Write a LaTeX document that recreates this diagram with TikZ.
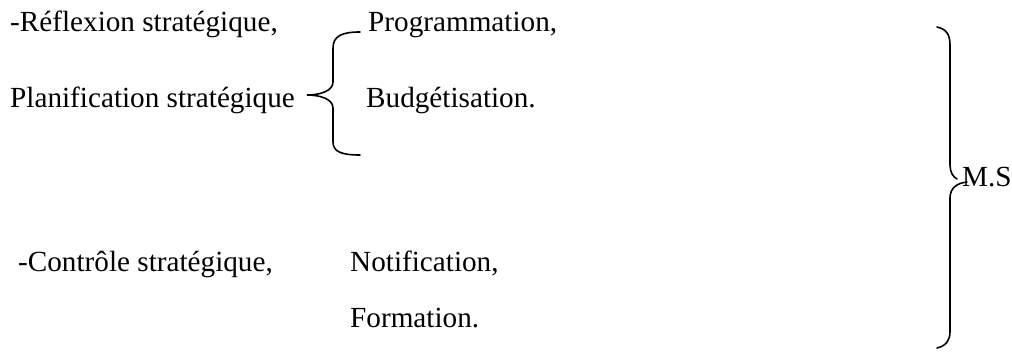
\documentclass[tikz,border=0pt]{standalone}
\usepackage{fontspec}
\setmainfont{Liberation Serif}
\begin{document}
\begin{tikzpicture}[x=1pt,y=-1pt,
  lbl/.style={anchor=base west,inner sep=0pt,font=\fontsize{29.2}{34}\selectfont},
  brace/.style={draw=black,line width=1.6pt,line cap=round}]
\useasboundingbox (0,0) rectangle (1012,352);
\node[lbl] (refl) at (10,32) {-Réflexion stratégique,};
\node[lbl] (plan) at (10,108) {Planification stratégique};
\node[lbl] (prog) at (368,32) {Programmation,};
\node[lbl] (budg) at (366,108) {Budgétisation.};
\node[lbl] (ctrl) at (18,272) {-Contrôle stratégique,};
\node[lbl] (notif) at (350,272) {Notification,};
\node[lbl] (form) at (350,328) {Formation.};
\node[lbl] (ms) at (962,187) {M.S};
% small brace
\coordinate (sbt) at (360,32);
\coordinate (sbm) at (307,95);
\coordinate (sbb) at (360,155);
\path[brace] (sbt) .. controls (342,32) and (333,36) .. (333,48) -- (333,82)
  .. controls (333,91) and (320,95) .. (sbm)
  .. controls (320,95) and (333,99) .. (333,108) -- (333,142)
  .. controls (333,152) and (342,155) .. (sbb);
% big brace
\coordinate (bbt) at (937,27);
\coordinate (bbb) at (937,348);
\path[brace] (bbt) .. controls (946,29) and (950,34) .. (950,45) -- (950,165)
  .. controls (950,172) and (953,177) .. (957,179);
\path[brace] (967,182) .. controls (957,183) and (950,188) .. (950,198) -- (950,332)
  .. controls (950,340) and (946,346) .. (bbb);
\end{tikzpicture}
\end{document}
